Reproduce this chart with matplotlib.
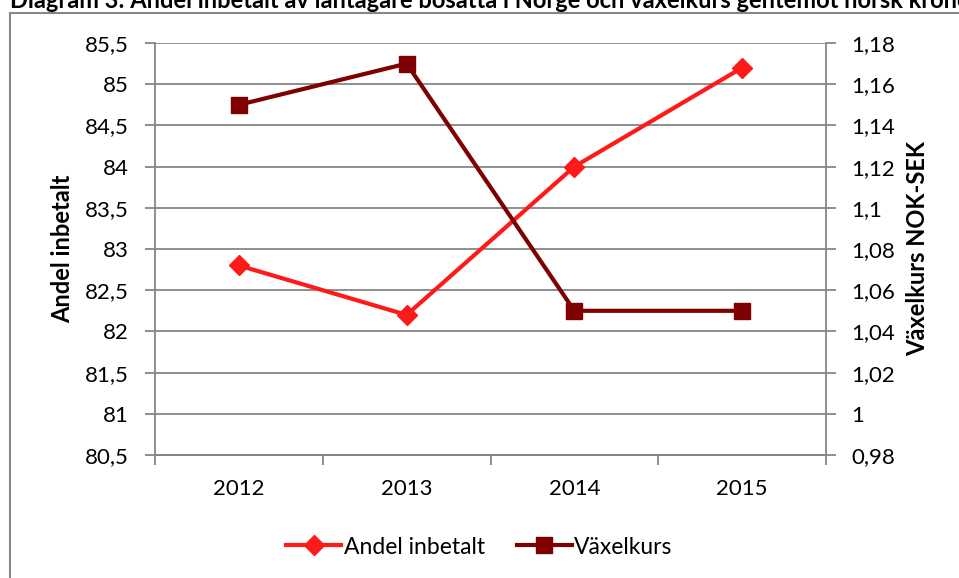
import matplotlib.pyplot as plt
from matplotlib.ticker import FuncFormatter, MultipleLocator, FixedLocator
from matplotlib.patches import Rectangle

years = ["2012", "2013", "2014", "2015"]
andel_inbetalt = [82.8, 82.2, 84.0, 85.2]
vaxelkurs = [1.15, 1.17, 1.05, 1.05]

plt.rcParams['font.family'] = ['Lato', 'DejaVu Sans']

fig = plt.figure(figsize=(9.59, 5.78), dpi=100)
ax = fig.add_axes([155 / 959, 1 - 455 / 578, 671 / 959, 412 / 578])
ax2 = ax.twinx()

x = list(range(len(years)))
l1, = ax.plot(x, andel_inbetalt, color='#ff1a1a', lw=3.0, marker='D', ms=10,
              label='Andel inbetalt', zorder=3)
l2, = ax2.plot(x, vaxelkurs, color='#7f0000', lw=3.0, marker='s', ms=12,
               label='Växelkurs', zorder=3)

# decimal comma on both axes
comma = lambda fmt: FuncFormatter(lambda v, p: (fmt % v).rstrip('0').rstrip('.').replace('.', ','))

ax.set_xlim(-0.5, 3.5)
ax.set_ylim(80.5, 85.5)
ax.yaxis.set_major_locator(MultipleLocator(0.5))
ax.yaxis.set_major_formatter(comma('%.1f'))
ax2.set_ylim(0.98, 1.18)
ax2.yaxis.set_major_locator(MultipleLocator(0.02))
ax2.yaxis.set_major_formatter(comma('%.2f'))

ax.set_xticks(x)
ax.set_xticklabels(years)
ax.xaxis.set_minor_locator(FixedLocator([-0.5, 0.5, 1.5, 2.5, 3.5]))
ax.tick_params(axis='x', which='major', length=0, pad=17, labelsize=16)
ax.tick_params(axis='x', which='minor', length=7, color='#868686', width=1.3)
ax.tick_params(axis='y', length=7, color='#868686', width=1.3, labelsize=16, pad=12)
ax2.tick_params(axis='y', length=7, color='#868686', width=1.3, labelsize=16, pad=11)

ax.grid(axis='y', color='#868686', lw=1.3)
ax.set_axisbelow(True)
for a in (ax, ax2):
    a.spines['top'].set_visible(False)
    for s in ('left', 'right', 'bottom'):
        a.spines[s].set_color('#868686')
        a.spines[s].set_linewidth(1.3)
ax2.spines['left'].set_visible(False)
ax.spines['right'].set_visible(False)

ax.set_ylabel('Andel inbetalt', fontsize=17, fontweight='bold', labelpad=8)
ax2.set_ylabel('Växelkurs NOK-SEK', fontsize=17, fontweight='bold', labelpad=8)

fig.legend(handles=[l1, l2], loc='center', bbox_to_anchor=(0.5, 1 - 547 / 578),
           ncol=2, frameon=False, fontsize=16.5, handlelength=2.4,
           handletextpad=0.1, columnspacing=1.4)

# chart area border (cropped at right and bottom)
fig.patches.append(Rectangle((10 / 959, -0.1), 1.2, 1.1 - 13 / 578,
                             transform=fig.transFigure, fill=False,
                             edgecolor='#868686', lw=1.5))
# title is cropped at the top edge in the reference
fig.text(10 / 959, 1 - 8 / 578,
         'Diagram 3: Andel inbetalt av låntagare bosatta i Norge och växelkurs gentemot norsk kronor',
         fontsize=17, fontweight='bold', ha='left', va='baseline')

fig.savefig('out.png', dpi=100)
